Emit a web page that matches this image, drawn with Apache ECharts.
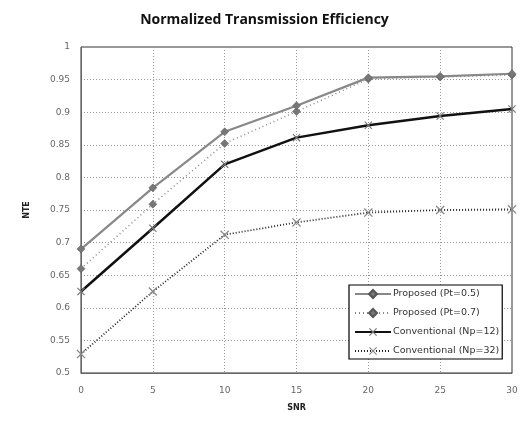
<!DOCTYPE html>
<html><head><meta charset="utf-8">
<script src="https://cdn.jsdelivr.net/npm/echarts@6/dist/echarts.min.js"></script>
<style>html,body{margin:0;padding:0;background:#fff}#c{width:529px;height:422px}</style>
</head><body><div id="c"></div>
<script>
const snr = [0, 5, 10, 15, 20, 25, 30];
const proposedPt05 = [0.690, 0.784, 0.870, 0.910, 0.953, 0.955, 0.959];
const proposedPt07 = [0.660, 0.759, 0.852, 0.901, 0.951, 0.954, 0.957];
const convNp12 = [0.625, 0.722, 0.820, 0.861, 0.880, 0.894, 0.905];
const convNp32 = [0.529, 0.625, 0.712, 0.731, 0.746, 0.750, 0.751];
const seriesNames = ['Proposed (Pt=0.5)', 'Proposed (Pt=0.7)', 'Conventional (Np=12)', 'Conventional (Np=32)'];

const xSym = 'path://M0,1L1,0L5,4L9,0L10,1L6,5L10,9L9,10L5,6L1,10L0,9L4,5Z';
const pair = arr => snr.map((x, i) => [x, arr[i]]);
const font = 'DejaVu Sans';

const chart = echarts.init(document.getElementById('c'), null, {renderer: 'canvas'});
chart.setOption({
  animation: false,
  backgroundColor: '#fff',
  title: {
    text: 'Normalized Transmission Efficiency',
    left: 'center', top: 8,
    textStyle: {fontFamily: 'Open Sans', fontWeight: 'bold', fontSize: 14, color: '#111'}
  },
  grid: {left: 81, top: 47, width: 431, height: 326, show: true, borderColor: '#333', borderWidth: 1},
  xAxis: {
    type: 'value', min: 0, max: 30, interval: 5,
    name: 'SNR', nameLocation: 'middle', nameGap: 31,
    nameTextStyle: {fontFamily: font, fontSize: 8, fontWeight: 'bold', color: '#222'},
    axisLine: {show: true, lineStyle: {color: '#666'}},
    axisTick: {show: false},
    axisLabel: {margin: 13, fontFamily: font, fontSize: 9, color: '#666'},
    splitLine: {show: true, lineStyle: {color: '#999', type: [1, 2]}}
  },
  yAxis: {
    type: 'value', min: 0.5, max: 1, interval: 0.05,
    name: 'NTE', nameLocation: 'middle', nameGap: 50, nameRotate: 90,
    nameTextStyle: {fontFamily: font, fontSize: 8, fontWeight: 'bold', color: '#222'},
    axisLine: {show: true, lineStyle: {color: '#666'}},
    axisTick: {show: false},
    axisLabel: {margin: 11, fontFamily: font, fontSize: 9, color: '#666'},
    splitLine: {show: true, lineStyle: {color: '#999', type: [1, 2]}}
  },
  legend: {
    orient: 'vertical', left: 349, top: 285,
    padding: [4, 3, 3, 5], itemGap: 9,
    itemWidth: 36, itemHeight: 10,
    backgroundColor: '#fff', borderColor: '#000', borderWidth: 1.2,
    textStyle: {fontFamily: font, fontSize: 9.5, color: '#333', padding: [0, 0, 0, -3]},
    data: seriesNames
  },
  series: [
    {
      name: seriesNames[0], type: 'line', data: pair(proposedPt05),
      symbol: 'diamond', symbolSize: 8,
      lineStyle: {color: '#888', width: 2.2},
      itemStyle: {color: '#777', borderColor: '#555', borderWidth: 0.5},
      z: 4
    },
    {
      name: seriesNames[1], type: 'line', data: pair(proposedPt07),
      symbol: 'diamond', symbolSize: 8,
      lineStyle: {color: '#888', width: 1.5, type: [1, 3]},
      itemStyle: {color: '#777', borderColor: '#555', borderWidth: 0.5},
      z: 3
    },
    {
      name: seriesNames[2], type: 'line', data: pair(convNp12),
      symbol: xSym, symbolSize: 8,
      lineStyle: {color: '#111', width: 2.5},
      itemStyle: {color: '#777'},
      z: 3
    },
    {
      name: seriesNames[3], type: 'line', data: pair(convNp32),
      symbol: xSym, symbolSize: 9,
      lineStyle: {color: '#222', width: 1.8, type: [1, 2]},
      itemStyle: {color: '#888'},
      z: 2
    }
  ]
});
</script>
</body></html>
